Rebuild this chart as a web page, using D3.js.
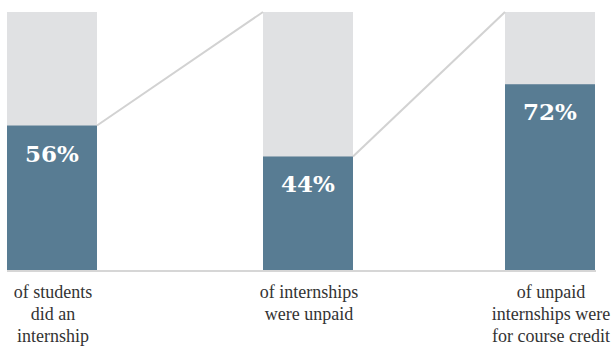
<!DOCTYPE html>
<html>
<head>
<meta charset="utf-8">
<script src="https://cdn.jsdelivr.net/npm/d3@7"></script>
<style>
  body { margin: 0; background: #fff; }
  svg { display: block; }
</style>
</head>
<body>
<script>
// each step is a share of the previous one
const categories = ["students", "unpaid", "credit"];
const values = [56, 44, 72];
const labelLines = [
    ["of students", "did an", "internship"],
    ["of internships", "were unpaid"],
    ["of unpaid", "internships were", "for course credit"]
];

const width = 611, height = 351;
const barW = 90;

let svg = d3.select("body").append("svg")
    .attr("width", width)
    .attr("height", height);

let x = d3.scaleOrdinal()
    .domain(categories)
    .range([7, 263, 505]);

let y = d3.scaleLinear()
    .domain([0, 100])
    .range([270, 12]);

// gray full bars
svg.append("g").selectAll("rect")
    .data(categories)
    .enter()
    .append("rect")
    .attr("x", d => x(d))
    .attr("y", y(100))
    .attr("width", barW)
    .attr("height", y(0) - y(100))
    .attr("fill", "#e0e1e3");

// blue share
svg.append("g").selectAll("rect")
    .data(values)
    .enter()
    .append("rect")
    .attr("x", (d, i) => x(categories[i]))
    .attr("y", d => y(d))
    .attr("width", barW)
    .attr("height", d => y(0) - y(d))
    .attr("fill", "#587c93");

// connectors from top of share to top of next bar
svg.append("g").selectAll("line")
    .data(values.slice(0, -1))
    .enter()
    .append("line")
    .attr("x1", (d, i) => x(categories[i]) + barW)
    .attr("y1", d => y(d))
    .attr("x2", (d, i) => x(categories[i + 1]))
    .attr("y2", y(100))
    .attr("stroke", "#d2d2d2")
    .attr("stroke-width", 2);

// baseline
svg.append("line")
    .attr("x1", x(categories[0]))
    .attr("x2", x(categories[categories.length - 1]) + barW + 1)
    .attr("y1", y(0) + 1)
    .attr("y2", y(0) + 1)
    .attr("stroke", "#d6d6d6")
    .attr("stroke-width", 2);

// percent labels
svg.append("g").selectAll("text")
    .data(values)
    .enter()
    .append("text")
    .attr("x", (d, i) => x(categories[i]) + barW / 2)
    .attr("y", d => y(d) + 36)
    .attr("text-anchor", "middle")
    .attr("fill", "#fff")
    .attr("font-family", "'DejaVu Serif', 'Liberation Serif', serif")
    .attr("font-weight", "bold")
    .attr("font-size", 23)
    .text(d => d + "%");

// category labels
let labels = svg.append("g").selectAll("text")
    .data(labelLines)
    .enter()
    .append("text")
    .attr("text-anchor", "middle")
    .attr("fill", "#333")
    .attr("font-family", "'Liberation Serif', 'Times New Roman', Tinos, 'DejaVu Serif', serif")
    .attr("font-size", 18);

labels.selectAll("tspan")
    .data((d, i) => d.map(t => ({t: t, c: categories[i]})))
    .enter()
    .append("tspan")
    .attr("x", d => x(d.c) + barW / 2 + 1)
    .attr("y", (d, j) => 298 + j * 22)
    .text(d => d.t);
</script>
</body>
</html>
